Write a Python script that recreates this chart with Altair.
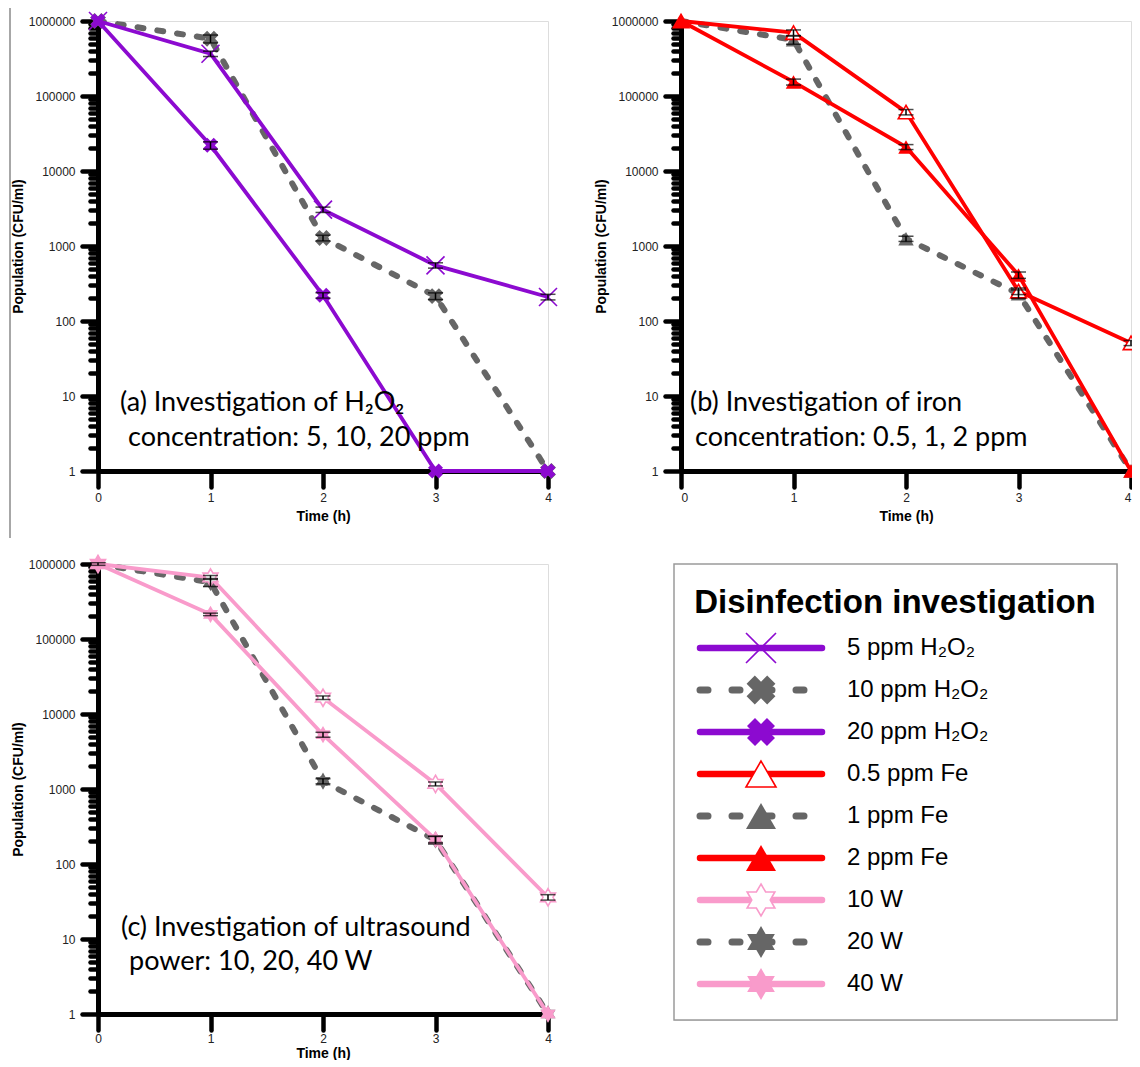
import altair as alt
import pandas as pd

# ---------------- data ----------------
HOURS = [0, 1, 2, 3, 4]

# (a) H2O2 concentration
A_5PPM = [1000000, 366000, 3050, 552, 209]
A_5PPM_ERR = [0, 30000, 250, 45, 18]
A_10PPM = [1000000, 580000, 1280, 215, 1]
A_10PPM_ERR = [0, 70000, 110, 22, 0]
A_20PPM = [1000000, 22000, 220, 1, 1]
A_20PPM_ERR = [0, 2500, 18, 0, 0]

# (b) iron concentration
B_05PPM = [1000000, 700000, 61000, 250, 51]
B_05PPM_ERR = [0, 60000, 5000, 25, 4]
B_1PPM = [1000000, 560000, 1250, 230, 1]
B_1PPM_ERR = [0, 70000, 100, 30, 0]
B_2PPM = [1000000, 154000, 20900, 410, 1]
B_2PPM_ERR = [0, 14000, 1600, 40, 0]

# (c) ultrasound power
C_10W = [1000000, 662000, 16500, 1170, 36]
C_10W_ERR = [40000, 40000, 900, 70, 3]
C_20W = [1000000, 570000, 1270, 210, 1]
C_20W_ERR = [0, 70000, 100, 25, 0]
C_40W = [1000000, 213000, 5300, 213, 1]
C_40W_ERR = [0, 8000, 400, 20, 0]

LEGEND_TITLE = "Disinfection investigation"
LEGEND_LABELS = ["5 ppm H₂O₂", "10 ppm H₂O₂", "20 ppm H₂O₂", "0.5 ppm Fe",
                 "1 ppm Fe", "2 ppm Fe", "10 W", "20 W", "40 W"]

ANNOT_A = ["(a) Investigation of H₂O₂", " concentration: 5, 10, 20 ppm"]
ANNOT_B = ["(b) Investigation of iron", " concentration: 0.5, 1, 2 ppm"]
ANNOT_C = ["(c) Investigation of ultrasound", " power: 10, 20, 40 W"]

Y_DECADES = [1, 10, 100, 1000, 10000, 100000, 1000000]
Y_MINOR_MULT = [2, 3, 4, 5, 6, 7, 8, 9]
X_TICKS = [0, 1, 2, 3, 4]

# ---------------- styles ----------------
PURPLE = "#8C0AD0"
RED = "#FF0000"
PINK = "#F99BCB"
GRAY = "#666666"
X_THIN = "M-1,-1L1,1M-1,1L1,-1"
HEXAGRAM = ("M0,-1L0.289,-0.5L0.866,-0.5L0.577,0L0.866,0.5L0.289,0.5L0,1"
            "L-0.289,0.5L-0.866,0.5L-0.577,0L-0.866,-0.5L-0.289,-0.5Z")

def style(color, dashed, shape, kind, size, angle=0):
    return dict(color=color, dashed=dashed, shape=shape, kind=kind, size=size, angle=angle)

STY = [
    style(PURPLE, False, X_THIN, "stroke", 324),
    style(GRAY, True, "cross", "filled", 256, 45),
    style(PURPLE, False, "cross", "filled", 230, 45),
    style(RED, False, "triangle-up", "open", 240),
    style(GRAY, True, "triangle-up", "filled", 240),
    style(RED, False, "triangle-up", "filled", 240),
    style(PINK, False, HEXAGRAM, "open", 300),
    style(GRAY, True, HEXAGRAM, "filled", 300),
    style(PINK, False, HEXAGRAM, "filled", 300),
]
LEG_SIZE = [900, 850, 800, 900, 900, 900, 1024, 1024, 1024]

FONT = "Liberation Sans"
W, H = 450, 450

decade_list = "[" + ",".join(str(d) for d in Y_DECADES) + "]"
is_decade = f"indexof({decade_list}, datum.value) >= 0"
y_values = sorted(set(Y_DECADES + [m * d for d in Y_DECADES[:-1] for m in Y_MINOR_MULT]))

yaxis = alt.Axis(
    values=y_values, title="Population (CFU/ml)", titleFont=FONT, titleFontSize=14,
    titleFontWeight="bold", titleColor="black", titlePadding=3,
    labelExpr=f"{is_decade} ? format(datum.value, 'd') : ''",
    labelFont=FONT, labelFontSize=12, labelColor="#222", labelPadding=7,
    labelOverlap=False, grid=False,
    domainColor="black", domainWidth=5, tickColor="black", tickWidth=4.5, tickCap="round",
    tickSize={"condition": {"test": is_decade, "value": 16}, "value": 8},
)


def xaxis(title_pad, label_pad=5, flush=False):
    return alt.Axis(
        values=X_TICKS, format="d", title="Time (h)", titleFont=FONT, titleFontSize=14,
        titleFontWeight="bold", titleColor="black", titlePadding=title_pad,
        labelFont=FONT, labelFontSize=12, labelColor="#222", labelPadding=label_pad,
        labelFlush=flush,
        grid=False, domainColor="black", domainWidth=5, tickColor="black",
        tickWidth=4.5, tickSize=16, tickCap="round",
    )


YSCALE = alt.Scale(type="log", domain=[1, 1000000], nice=False)
XSCALE = alt.Scale(domain=[0, 4], nice=False, zero=False)


def y(field):
    return alt.Y(f"{field}:Q", scale=YSCALE, axis=yaxis)


def marker(st, size):
    common = dict(shape=st["shape"], size=size, angle=st["angle"], opacity=1)
    if st["kind"] == "stroke":
        return dict(filled=False, stroke=st["color"], strokeWidth=1.6, **common)
    if st["kind"] == "open":
        return dict(filled=True, fill="white", stroke=st["color"], strokeWidth=1.6, **common)
    return dict(filled=True, fill=st["color"], strokeWidth=0, **common)


def panel(series, annot, ann_x, ann_y, x_axis, extra=()):
    X = alt.X("hours:Q", scale=XSCALE, axis=x_axis)
    layers = []
    frames = []
    for name, vals, errs, st in series:
        df = pd.DataFrame({"hours": HOURS, "value": vals, "err": errs, "series": name})
        df["lo"] = df["value"] - df["err"]
        df["hi"] = df["value"] + df["err"]
        frames.append((df, st))
    order = sorted(frames, key=lambda f: 0 if f[1]["dashed"] else 1)
    for df, st in order:
        if st["dashed"]:
            mk = alt.Chart(df).mark_line(color=st["color"], strokeWidth=6, strokeDash=[6, 14],
                                         strokeCap="round")
        else:
            mk = alt.Chart(df).mark_line(color=st["color"], strokeWidth=3.8)
        layers.append(mk.encode(x=X, y=y("value")))
        layers.append(alt.Chart(df).mark_point(**marker(st, st["size"])).encode(x=X, y=y("value")))
    err_all = pd.concat([f[0] for f in frames])
    err_all = err_all[err_all["err"] > 0]
    layers.append(alt.Chart(err_all).mark_rule(color="black", strokeWidth=1.5)
                  .encode(x=X, y=y("lo"), y2="hi:Q"))
    for fld in ["lo", "hi"]:
        layers.append(alt.Chart(err_all).mark_tick(orient="horizontal", size=15, thickness=1.5,
                                                   color="black").encode(x=X, y=y(fld)))
    for i, line in enumerate(annot):
        layers.append(alt.Chart(pd.DataFrame({"t": [line]})).mark_text(
            align="left", baseline="middle", font="Lato", fontSize=27, color="black")
            .encode(x=alt.value(ann_x[i]), y=alt.value(ann_y[i]), text="t:N"))
    layers.extend(extra)
    return alt.layer(*layers).properties(width=W, height=H)


one_row = pd.DataFrame({"a": [0]})
edge = alt.Chart(one_row).mark_rule(color="#8a8a8a", strokeWidth=1.5).encode(
    x=alt.value(-88), y=alt.value(-13), y2=alt.value(517))
spacer = alt.Chart(one_row).mark_rule(opacity=0, strokeWidth=1).encode(
    x=alt.value(-88), y=alt.value(0), y2=alt.value(529))

pa = panel([
    ("5 ppm", A_5PPM, A_5PPM_ERR, STY[0]),
    ("10 ppm", A_10PPM, A_10PPM_ERR, STY[1]),
    ("20 ppm", A_20PPM, A_20PPM_ERR, STY[2]),
], ANNOT_A, [22, 30], [382, 417], xaxis(6), extra=[edge, spacer])

pb = panel([
    ("0.5 ppm", B_05PPM, B_05PPM_ERR, STY[3]),
    ("1 ppm", B_1PPM, B_1PPM_ERR, STY[4]),
    ("2 ppm", B_2PPM, B_2PPM_ERR, STY[5]),
], ANNOT_B, [9, 14], [382, 417], xaxis(6, flush=True))

pc = panel([
    ("10 W", C_10W, C_10W_ERR, STY[6]),
    ("20 W", C_20W, C_20W_ERR, STY[7]),
    ("40 W", C_40W, C_40W_ERR, STY[8]),
], ANNOT_C, [23, 31], [364, 398], xaxis(2, label_pad=3))

# ---------------- legend panel ----------------
LW, LH = 443, 456
leg_df = pd.DataFrame({"label": LEGEND_LABELS, "row": list(range(len(LEGEND_LABELS)))})
YL = alt.Y("row:Q", scale=alt.Scale(domain=[0, 8], range=[84, 420]), axis=None)
one = pd.DataFrame({"t": [LEGEND_TITLE]})
leg_layers = [
    alt.Chart(one).mark_rect(fill="white", stroke="#9a9a9a", strokeWidth=1.5).encode(
        x=alt.value(0), x2=alt.value(LW), y=alt.value(0), y2=alt.value(LH)),
    alt.Chart(one).mark_text(font=FONT, fontSize=33, fontWeight="bold", align="center",
                             baseline="middle", color="black").encode(
        x=alt.value(221), y=alt.value(39), text="t:N"),
]
for i, st in enumerate(STY):
    sub = leg_df[leg_df["row"] == i]
    if st["dashed"]:
        ln = alt.Chart(sub).mark_rule(color=st["color"], strokeWidth=7, strokeDash=[8, 24],
                                      strokeCap="round")
    else:
        ln = alt.Chart(sub).mark_rule(color=st["color"], strokeWidth=6.5, strokeCap="round")
    leg_layers.append(ln.encode(x=alt.value(26), x2=alt.value(148), y=YL))
    leg_layers.append(alt.Chart(sub).mark_point(**marker(st, LEG_SIZE[i])).encode(
        x=alt.value(87), y=YL))
leg_layers.append(alt.Chart(leg_df).mark_text(font=FONT, fontSize=24, align="left",
                                              baseline="middle", color="black").encode(
    x=alt.value(173), y=YL, text="label:N"))
legend = alt.layer(*leg_layers).properties(width=LW, height=LH)

top = alt.hconcat(pa, pb, spacing=32)
bottom = alt.hconcat(pc, legend, spacing=111)
chart = alt.vconcat(top, bottom, spacing=0).properties(
    padding={"left": 0, "top": -2, "right": -12, "bottom": -1}
).configure_view(stroke=None).configure(font=FONT, background="white")

chart.save("out.html", embed_options={"renderer": "svg", "actions": False})
